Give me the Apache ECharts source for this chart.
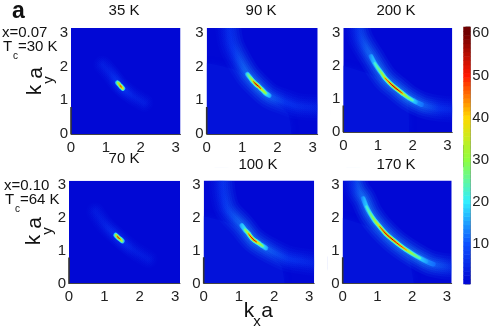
<!DOCTYPE html>
<html><head><meta charset="utf-8">
<style>html,body{margin:0;padding:0;background:#fff}#c{width:492px;height:327px}</style>
<script src="https://cdn.jsdelivr.net/npm/echarts@6/dist/echarts.min.js"></script>
</head><body><div id="c"></div>
<script>
// Values: ridge = [kx a, ky a, intensity]
const ridge35=[[1.27,1.6,5],[1.33,1.52,20],[1.37,1.48,38],[1.41,1.43,56],[1.45,1.39,48],[1.49,1.35,28],[1.55,1.29,5]];
const ridge90=[[1.08,1.86,5],[1.15,1.77,20],[1.24,1.65,32],[1.32,1.55,44],[1.4,1.47,58],[1.46,1.42,55],[1.53,1.35,46],[1.6,1.28,38],[1.68,1.2,28],[1.77,1.14,18],[1.88,1.07,5]];
const ridge200=[[.72,2.42,4],[.8,2.28,12],[.9,2.08,22],[1.0,1.92,28],[1.1,1.78,34],[1.2,1.63,42],[1.3,1.52,50],[1.4,1.42,56],[1.5,1.33,58],[1.6,1.25,54],[1.7,1.17,44],[1.8,1.09,36],[1.9,1.02,30],[2.0,.96,26],[2.1,.9,18],[2.25,.83,9],[2.38,.78,4]];
const ridge70=[[1.24,1.57,5],[1.32,1.48,24],[1.36,1.44,42],[1.4,1.4,56],[1.45,1.36,44],[1.51,1.3,22],[1.58,1.24,5]];
const ridge100=[[1.0,1.87,5],[1.08,1.77,18],[1.17,1.64,28],[1.27,1.52,40],[1.34,1.42,52],[1.41,1.34,57],[1.5,1.27,50],[1.6,1.2,36],[1.68,1.14,28],[1.77,1.08,18],[1.88,1.0,5]];
const ridge170=[[.53,2.72,4],[.59,2.59,12],[.68,2.35,22],[.79,2.13,28],[.92,1.92,36],[1.07,1.73,46],[1.25,1.51,56],[1.46,1.32,56],[1.65,1.16,50],[1.84,1.02,42],[2.03,.89,34],[2.23,.77,26],[2.42,.67,16],[2.61,.59,8],[2.75,.54,4]];
// Faint wings of the intensity, [kx a, ky a, intensity]
const wing35=[[.9,2.05,4],[1.15,1.75,5],[1.4,1.43,9],[1.75,1.15,5],[2.1,.93,4]];
const wing90=[[.6,3.2,5],[.68,2.7,7],[.85,2.3,9],[1.15,1.77,14],[1.46,1.42,16],[1.77,1.14,14],[2.2,.95,9],[2.6,.82,7],[3.2,.78,5]];
const wing200=[[.38,3.2,5],[.5,2.8,8],[.8,2.28,14],[1.2,1.63,16],[1.54,1.32,16],[1.87,1.04,16],[2.25,.83,14],[2.7,.72,8],[3.2,.68,5]];
const wing70=[[.74,2.2,3.5],[1,1.8,4.5],[1.4,1.4,8],[1.8,1.05,4.5],[2.25,.75,3.5]];
const wing100=[[.5,3.2,5],[.55,2.7,7],[.68,2.25,9],[1.08,1.77,14],[1.41,1.34,16],[1.77,1.08,14],[2.36,.77,9],[2.8,.68,7],[3.2,.62,5]];
const wing170=[[.3,3.2,5],[.42,2.85,8],[.59,2.59,14],[.79,2.13,16],[1.07,1.73,16],[1.46,1.32,16],[1.84,1.02,16],[2.23,.77,16],[2.61,.59,13],[3.2,.5,5]];
// Slightly brighter floor below the arc, [kx a, ky a]
const floor90=[[0,2.1],[.8,1.9],[1.3,1.5],[1.7,1.15],[2.3,.6],[2.4,0]];
const floor200=[[0,2.0],[.75,1.75],[1.3,1.45],[1.6,1.2],[1.85,1.0],[1.9,0]];
const floor100=[[0,2.05],[.7,1.85],[1.2,1.5],[1.6,1.15],[2.2,.55],[2.3,0]];
const floor170=[[0,2.0],[.7,1.75],[1.2,1.4],[1.6,1.1],[1.9,.8],[2.05,0]];
const floors=[null,floor90,floor200,null,floor100,floor170];
const floorValue=2.2;
const backgroundValue=1.0;
const leftStripe=[[0,0],[0,.8]];
const panelTitles=['35 K','90 K','200 K','70 K','100 K','170 K'];
const ridges=[ridge35,ridge90,ridge200,ridge70,ridge100,ridge170];
const wings=[wing35,wing90,wing200,wing70,wing100,wing170];
const tickStep=1, axisMax=3.14;
const barLevels=Array.from({length:61},(_,i)=>i+1);
const barTicks=[10,20,30,40,50,60];
const scaleStops=['#0000d0','#0c50ff','#30eeff','#90ff40','#ffd800','#ff1800','#700000'];

const FONT='"Liberation Sans",Arial,sans-serif';
const colorAt=v=>echarts.color.lerp(Math.min(v/60,1),scaleStops);
const boxes=[[71,28,109.5,106],[206.7,28,111,106],[343.3,28,109,104],[69,180.7,111,103],[203.7,180.5,110.5,103],[342.7,180.5,109,103]];
const wingLayers=[[26,.07],[21,.1],[16,.13],[12,.16],[8,.2],[4.5,.24]];
// width, share of the intensity, lowest intensity drawn, floor colour value
const ridgeLayers=[[4.8,.2,8,10],[3.5,.36,12,8],[2.3,.68,20,4],[1,1,40,0]];

const gradient=(pts,scale,add)=>{const x0=pts[0][0],x1=pts[pts.length-1][0];
  return new echarts.graphic.LinearGradient(0,0,1,0,pts.map(p=>({offset:(p[0]-x0)/(x1-x0),color:colorAt(p[2]*scale+add)})));};

const grids=[],xAxes=[],yAxes=[],series=[];
boxes.forEach((b,i)=>{
  grids.push({left:b[0],top:b[1],width:b[2],height:b[3],show:true,borderWidth:0,backgroundColor:colorAt(backgroundValue)});
  const ax={type:'value',gridIndex:i,min:0,max:axisMax,interval:tickStep,splitLine:{show:false},axisTick:{show:false},z:10,
    axisLabel:{showMaxLabel:false,fontFamily:FONT,fontSize:15,color:'#222',margin:6}};
  xAxes.push({...ax,axisLine:{show:true,onZero:false,lineStyle:{color:'#444',width:1}}});
  yAxes.push({...ax,axisLine:{show:false},axisLabel:{...ax.axisLabel,margin:3}});
  const base={type:'line',xAxisIndex:i,yAxisIndex:i,symbol:'none',silent:true,animation:false,smooth:.35};
  if(floors[i]) series.push({...base,smooth:.2,data:floors[i],lineStyle:{width:0},
    areaStyle:{color:colorAt(floorValue),origin:'start',opacity:1,shadowBlur:6,shadowColor:colorAt(floorValue)}});
  const w=wings[i];
  wingLayers.forEach(l=>{
    series.push({...base,data:w.map(p=>[p[0],p[1]]),lineStyle:{width:(i===0||i===3)?l[0]*.7:l[0],cap:'round',opacity:l[1]*(i===0||i===3?1.3:1),color:gradient(w,1,0)}});});
  const r=ridges[i];
  ridgeLayers.forEach(l=>{
    const pts=r.filter(p=>p[2]>=l[2]);
    series.push({...base,data:pts.map(p=>[p[0],p[1]]),lineStyle:{width:l[0],cap:'round',color:gradient(pts,l[1],l[3])}});
  });
  series.push({...base,smooth:false,clip:false,z:12,data:leftStripe,lineStyle:{color:'#333',width:1.6}});
});
// colour bar
const ci=boxes.length;
grids.push({left:463.5,top:27,width:8,height:257,show:true,borderColor:'#666',borderWidth:1,backgroundColor:'#fff'});
xAxes.push({type:'category',gridIndex:ci,data:['c'],axisLine:{show:false},axisTick:{show:false},axisLabel:{show:false}});
yAxes.push({type:'category',gridIndex:ci,position:'right',data:barLevels,z:10,
  axisLine:{show:false},axisTick:{inside:true,alignWithLabel:true,length:8,lineStyle:{color:'#222'},interval:i=>barTicks.includes(barLevels[i])},
  axisLabel:{margin:2,fontFamily:FONT,fontSize:15,color:'#222',interval:i=>barTicks.includes(barLevels[i])}});
series.push({type:'heatmap',xAxisIndex:ci,yAxisIndex:ci,z:9,animation:false,silent:true,
  data:barLevels.map((v,k)=>({value:[0,k,v],itemStyle:{color:colorAt(v)}}))});

const t=(text,x,y,size,extra={})=>({type:'text',x,y,rotation:extra.rotation||0,z:20,silent:true,style:{text,fontFamily:FONT,fontSize:size,
  fontWeight:extra.weight||'normal',fill:'#111',textAlign:extra.align||'left',textVerticalAlign:'middle'}});
const titleCenters=[[124,11],[261,11],[396,11],[124,159],[258,165],[396,165]];
// White frames keep the wide soft bands inside each panel
const mask=(x,y,w,h)=>({type:'rect',z:8,silent:true,shape:{x,y,width:w,height:h},style:{fill:'#fff'}});
const masks=[];
boxes.forEach(b=>{const m=13;
  masks.push(mask(b[0]-m,b[1]-m,b[2]+2*m,m),mask(b[0]-m,b[1]+b[3],b[2]+2*m,m),mask(b[0]-m,b[1]-m,m,b[3]+2*m),mask(b[0]+b[2],b[1]-m,m,b[3]+2*m));
});
const graphics=[...masks,
  t('a',12,12,23,{weight:'bold'}),
  t('x=0.07',2,33,15),t('T',3,47,15),t('c',13,56,10),t('=30 K',18,47,15),
  t('x=0.10',4,186,15),t('T',5,200,15),t('c',15,209,10),t('=64 K',20,200,15),
  t('k',35,90,21,{rotation:Math.PI/2,align:'center'}),t('y',49,80,15,{rotation:Math.PI/2,align:'center'}),t('a',36,73,21,{rotation:Math.PI/2,align:'center'}),
  t('k',34,240,21,{rotation:Math.PI/2,align:'center'}),t('y',48,231,15,{rotation:Math.PI/2,align:'center'}),t('a',35,223,21,{rotation:Math.PI/2,align:'center'}),
  t('k',249,311,21,{align:'center'}),t('x',257,322,15,{align:'center'}),t('a',267,311,21,{align:'center'}),
  ...panelTitles.map((s,i)=>t(s,titleCenters[i][0],titleCenters[i][1],15,{align:'center'}))
];
const chart=echarts.init(document.getElementById('c'),null,{renderer:'canvas'});
chart.setOption({animation:false,backgroundColor:'#fff',grid:grids,xAxis:xAxes,yAxis:yAxes,series,graphic:graphics});
</script></body></html>
